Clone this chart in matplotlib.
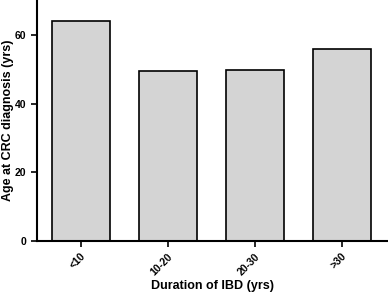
import matplotlib
matplotlib.use("Agg")
import matplotlib.pyplot as plt

categories = ["<10", "10-20", "20-30", ">30"]
values = [64.2, 49.7, 49.9, 56.0]

plt.rcParams['font.family'] = ['Liberation Sans', 'DejaVu Sans']

fig = plt.figure(figsize=(3.88, 2.92), dpi=100)
ax = fig.add_axes([0.0954, 0.1747, 0.9046, 0.8253])
x = list(range(len(categories)))
ax.bar(x, values, width=0.667, color="#d4d4d4", edgecolor="black", linewidth=1.2)
ax.set_xlim(-0.5, 3.53)
ax.set_ylim(0, 70.3)
ax.set_yticks([0, 20, 40, 60])
ax.set_xticks(x)
ax.set_xticklabels(categories, rotation=45, ha="right", rotation_mode="anchor",
                   fontsize=7.5, fontweight="bold")
for lab in ax.get_yticklabels():
    lab.set_fontsize(7.5)
    lab.set_fontweight("bold")
ax.spines['top'].set_visible(False)
ax.spines['right'].set_visible(False)
ax.spines['left'].set_linewidth(1.5)
ax.spines['bottom'].set_linewidth(1.5)
ax.tick_params(width=1.2, length=4)
ax.set_ylabel("Age at CRC diagnosis (yrs)", fontsize=9, fontweight="bold", va="center")
ax.yaxis.set_label_coords(-0.084, 0.5)
ax.set_xlabel("Duration of IBD (yrs)", fontsize=9, fontweight="bold", labelpad=2)
fig.savefig("out.png", dpi=100)
